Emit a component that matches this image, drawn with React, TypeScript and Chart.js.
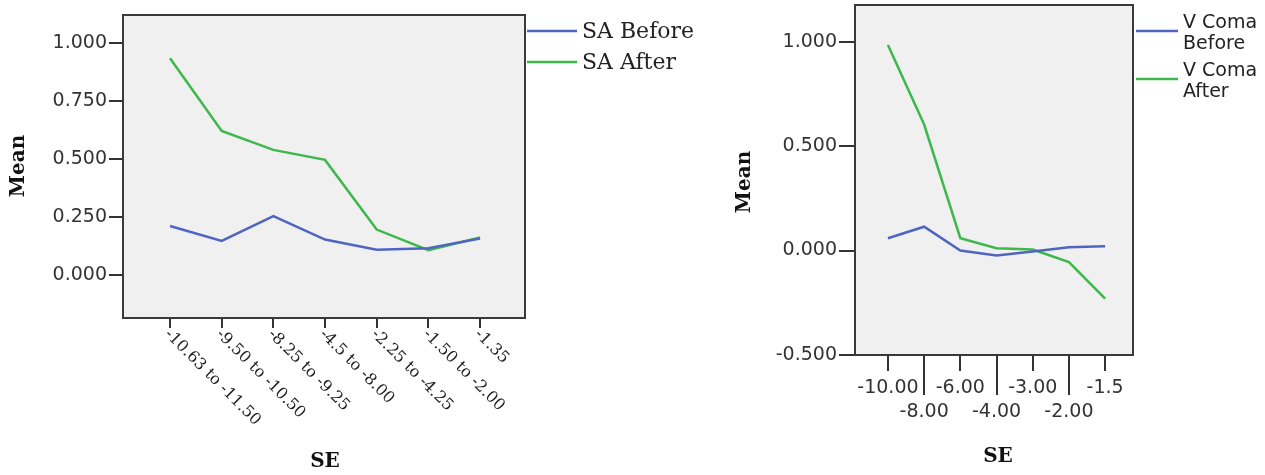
import React, { useEffect, useRef } from "react";
import { Chart, registerables } from "chart.js";

Chart.register(...registerables);

// ---------- Data ----------
const saCategories = [
  "-10.63 to -11.50",
  "-9.50 to -10.50",
  "-8.25 to -9.25",
  "-4.5 to -8.00",
  "-2.25 to -4.25",
  "-1.50 to -2.00",
  "-1.35",
];
const saBefore = [0.211, 0.147, 0.254, 0.153, 0.109, 0.115, 0.157];
const saAfter = [0.934, 0.621, 0.539, 0.496, 0.196, 0.107, 0.162];
const saYTicks = [0, 0.25, 0.5, 0.75, 1.0];
const saSeriesNames = ["SA Before", "SA After"];

const comaCategories = ["-10.00", "-8.00", "-6.00", "-4.00", "-3.00", "-2.00", "-1.5"];
const comaBefore = [0.059, 0.114, 0.0, -0.024, -0.005, 0.016, 0.021];
const comaAfter = [0.984, 0.603, 0.059, 0.011, 0.005, -0.055, -0.23];
const comaYTicks = [-0.5, 0, 0.5, 1.0];
const comaSeriesNames = ["V Coma Before", "V Coma After"];

const axisTitleY = "Mean";
const axisTitleX = "SE";

const BLUE = "#5065c2";
const GREEN = "#3cb94a";
const H = 475;

type Panel = {
  left: number;
  width: number;
  area: { left: number; top: number; right: number; bottom: number };
  xMin: number;
  xMax: number;
  yMin: number;
  yMax: number;
  yTicks: number[];
  categories: string[];
  before: number[];
  after: number[];
  names: string[];
  mode: "rotated" | "staggered";
  xTickLength: number;
  xAxisHeight: number;
  xTickPadding: number;
  yTickLength: number;
  legend: {
    x1: number;
    x2: number;
    tx: number;
    ys: number[];
    font: string;
    wrap: number;
    textDy: number;
    lineStep: number;
  };
  meanPos: [number, number];
  sePos: [number, number];
};

function ChartPanel({ p }: { p: Panel }) {
  const ref = useRef<HTMLCanvasElement>(null);
  useEffect(() => {
    const canvas = ref.current!;
    const a0 = p.area;
    const tickFont = { family: "DejaVu Sans", size: 19, lineHeight: 24 / 19 };

    const decor = {
      id: "decor",
      beforeDraw(chart: any) {
        const { ctx, chartArea: a } = chart;
        ctx.save();
        ctx.fillStyle = "#f0f0f0";
        ctx.fillRect(a.left, a.top, a.right - a.left, a.bottom - a.top);
        ctx.restore();
      },
      afterDraw(chart: any) {
        const { ctx, chartArea: a } = chart;
        ctx.save();
        // frame
        ctx.strokeStyle = "#3a3a3a";
        ctx.lineWidth = 2;
        ctx.strokeRect(a.left, a.top, a.right - a.left, a.bottom - a.top);

        const xs = chart.scales.x;
        // x labels / extra ticks
        if (p.mode === "rotated") {
          ctx.fillStyle = "#222";
          ctx.font = "16px 'DejaVu Serif'";
          ctx.textAlign = "left";
          ctx.textBaseline = "middle";
          p.categories.forEach((c, i) => {
            const x = xs.getPixelForValue(i);
            ctx.save();
            ctx.translate(x - 3, a.bottom + 14);
            ctx.rotate(Math.PI / 4);
            ctx.fillText(c, 0, 0);
            ctx.restore();
          });
        } else {
          ctx.strokeStyle = "#333";
          ctx.lineWidth = 2;
          p.categories.forEach((_, i) => {
            if (i % 2 === 1) {
              const x = Math.round(xs.getPixelForValue(i));
              ctx.beginPath();
              ctx.moveTo(x, a.bottom);
              ctx.lineTo(x, a.bottom + 40);
              ctx.stroke();
            }
          });
        }

        // legend
        const L = p.legend;
        chart.data.datasets.forEach((ds: any, i: number) => {
          const y = L.ys[i];
          ctx.strokeStyle = ds.borderColor;
          ctx.lineWidth = 2.5;
          ctx.beginPath();
          ctx.moveTo(L.x1, y);
          ctx.lineTo(L.x2, y);
          ctx.stroke();
          ctx.fillStyle = "#222";
          ctx.font = L.font;
          ctx.textAlign = "left";
          ctx.textBaseline = "middle";
          const words = String(ds.label).split(" ");
          const lines: string[] = [];
          let cur = "";
          words.forEach((w) => {
            const t = cur ? cur + " " + w : w;
            if (cur && ctx.measureText(t).width > L.wrap) {
              lines.push(cur);
              cur = w;
            } else cur = t;
          });
          if (cur) lines.push(cur);
          lines.forEach((ln, k) => {
            ctx.fillText(ln, L.tx, y + L.textDy + k * L.lineStep);
          });
        });

        // axis titles
        ctx.fillStyle = "#111";
        ctx.font = "bold 20px 'DejaVu Serif'";
        ctx.textAlign = "center";
        ctx.textBaseline = "middle";
        ctx.fillText(axisTitleX, p.sePos[0], p.sePos[1]);
        ctx.save();
        ctx.translate(p.meanPos[0], p.meanPos[1]);
        ctx.rotate(-Math.PI / 2);
        ctx.fillText(axisTitleY, 0, 0);
        ctx.restore();

        ctx.restore();
      },
    };

    const mk = (vals: number[]) => vals.map((v, i) => ({ x: i, y: v }));

    const chart = new Chart(canvas, {
      type: "line",
      data: {
        datasets: [
          {
            label: p.names[0],
            data: mk(p.before),
            borderColor: BLUE,
            backgroundColor: BLUE,
            borderWidth: 2.5,
            pointRadius: 0,
            tension: 0,
          },
          {
            label: p.names[1],
            data: mk(p.after),
            borderColor: GREEN,
            backgroundColor: GREEN,
            borderWidth: 2.5,
            pointRadius: 0,
            tension: 0,
          },
        ],
      },
      options: {
        animation: false,
        responsive: false,
        devicePixelRatio: 1,
        layout: {
          padding: {
            left: 0,
            top: a0.top,
            right: p.width - a0.right,
            bottom: H - a0.bottom - p.xAxisHeight,
          },
        },
        plugins: {
          legend: { display: false },
          tooltip: { enabled: false },
        },
        scales: {
          x: {
            type: "linear",
            min: p.xMin,
            max: p.xMax,
            afterBuildTicks: (s: any) => {
              s.ticks = p.categories.map((_, i) => ({ value: i }));
            },
            afterFit: (s: any) => {
              s.height = p.xAxisHeight;
              s.paddingLeft = 0;
              s.paddingRight = 0;
              s.paddingTop = 0;
              s.paddingBottom = 0;
            },
            grid: {
              drawOnChartArea: false,
              drawTicks: true,
              tickLength: p.xTickLength,
              color: "#333",
              lineWidth: 2,
            },
            border: { display: false },
            ticks: {
              display: p.mode === "staggered",
              autoSkip: false,
              maxRotation: 0,
              minRotation: 0,
              padding: p.xTickPadding,
              color: "#333",
              font: tickFont,
              callback: (v: any) => {
                const i = Math.round(Number(v));
                const c = p.categories[i];
                return i % 2 === 1 ? ["", c] : c;
              },
            },
          },
          y: {
            type: "linear",
            min: p.yMin,
            max: p.yMax,
            afterBuildTicks: (s: any) => {
              s.ticks = p.yTicks.map((v) => ({ value: v }));
            },
            afterFit: (s: any) => {
              s.width = a0.left;
              s.paddingLeft = 0;
              s.paddingRight = 0;
              s.paddingTop = 0;
              s.paddingBottom = 0;
            },
            grid: {
              drawOnChartArea: false,
              drawTicks: true,
              tickLength: p.yTickLength,
              color: "#333",
              lineWidth: 2,
            },
            border: { display: false },
            ticks: {
              padding: 2,
              color: "#333",
              font: tickFont,
              callback: (v: any) => Number(v).toFixed(3),
            },
          },
        },
      } as any,
      plugins: [decor],
    });
    return () => chart.destroy();
  }, []);
  return (
    <canvas
      ref={ref}
      width={p.width}
      height={H}
      style={{ position: "absolute", left: p.left, top: 0, width: p.width, height: H }}
    />
  );
}

const leftPanel: Panel = {
  left: 0,
  width: 730,
  area: { left: 123, top: 15, right: 525, bottom: 318 },
  xMin: -0.91,
  xMax: 6.87,
  yMin: -0.185,
  yMax: 1.12,
  yTicks: saYTicks,
  categories: saCategories,
  before: saBefore,
  after: saAfter,
  names: saSeriesNames,
  mode: "rotated",
  xTickLength: 10,
  xAxisHeight: 10,
  xTickPadding: 0,
  yTickLength: 14,
  legend: {
    x1: 527,
    x2: 577,
    tx: 582,
    ys: [31, 62],
    font: "22px 'DejaVu Serif'",
    wrap: 400,
    textDy: 1,
    lineStep: 22,
  },
  meanPos: [19, 166],
  sePos: [325, 462],
};

const rightPanel: Panel = {
  left: 730,
  width: 535,
  area: { left: 125, top: 5, right: 403, bottom: 355 },
  xMin: -0.91,
  xMax: 6.77,
  yMin: -0.5,
  yMax: 1.175,
  yTicks: comaYTicks,
  categories: comaCategories,
  before: comaBefore,
  after: comaAfter,
  names: comaSeriesNames,
  mode: "staggered",
  xTickLength: 16,
  xAxisHeight: 70,
  xTickPadding: 5,
  yTickLength: 16,
  legend: {
    x1: 406,
    x2: 448,
    tx: 453,
    ys: [31, 79],
    font: "19px 'DejaVu Sans'",
    wrap: 80,
    textDy: -8,
    lineStep: 21,
  },
  meanPos: [15, 182],
  sePos: [268, 457],
};

export default function App() {
  return (
    <div
      style={{
        position: "fixed",
        left: 0,
        top: 0,
        width: 1265,
        height: H,
        background: "#ffffff",
        overflow: "hidden",
      }}
    >
      <ChartPanel p={leftPanel} />
      <ChartPanel p={rightPanel} />
    </div>
  );
}
